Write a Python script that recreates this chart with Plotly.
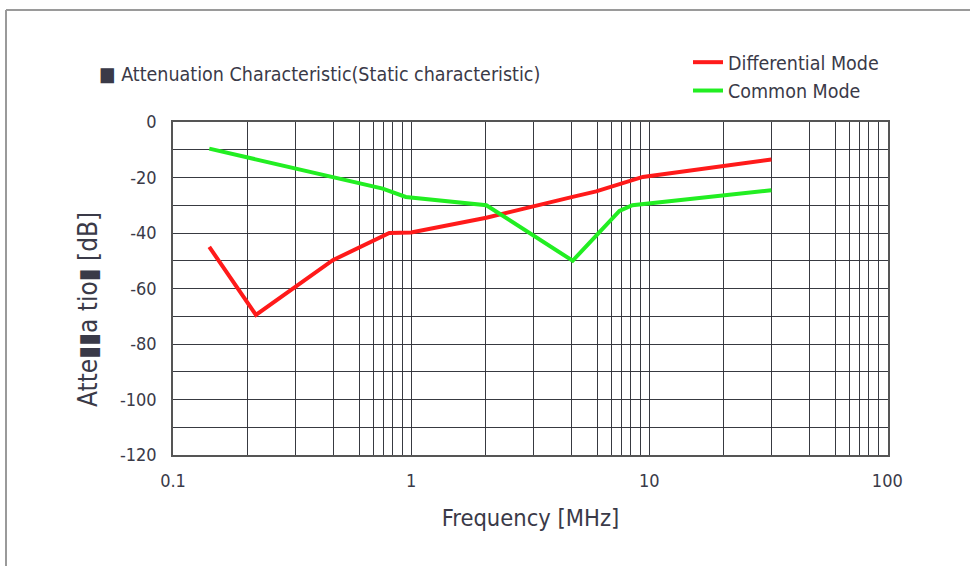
import plotly.graph_objects as go

# ---- data ----
diff_freq = [0.142, 0.223, 0.469, 0.81, 1.0, 2.07, 4.77, 5.99, 9.4, 32.6]
diff_db = [-45, -69.5, -49.8, -40, -39.8, -34.5, -27, -25, -19.8, -13.5]

cm_freq = [0.142, 0.469, 0.76, 0.95, 2.07, 4.77, 7.5, 8.5, 32.6]
cm_db = [-9.6, -20, -24, -27, -30, -50, -32, -30, -24.6]

x_labels = ["0.1", "1", "10", "100"]
x_label_vals = [0.1, 1, 10, 100]
y_label_vals = [0, -20, -40, -60, -80, -100, -120]

# grid line placement inside each decade (fraction of a decade, as drawn)
grid_frac = [0.311, 0.515, 0.674, 0.782, 0.840, 0.882, 0.922, 0.964]

W, H = 970, 566
L, R, T, B = 173, 82, 122, 111
PW, PH = W - L - R, H - T - B


def px_x(px):
    return (px - L) / PW


def px_y(py):
    return 1 - (py - T) / PH


FONT = "DejaVu Sans Condensed, Liberation Sans Narrow, sans-serif"
TXT = "#3a3a48"

xt_vals, xt_text = [], []
for v, t in zip(x_label_vals, x_labels):
    xt_vals.append(v)
    xt_text.append(t)
for d in (-1, 0, 1):
    for f in grid_frac:
        xt_vals.append(10 ** (d + f))
        xt_text.append("")

yt_vals = list(range(-120, 1, 10))
yt_text = [str(v) if v in y_label_vals else "" for v in yt_vals]

fig = go.Figure()
fig.add_trace(go.Scatter(x=diff_freq, y=diff_db, mode="lines", name="Differential Mode",
                         line=dict(color="#ff1a1a", width=4)))
fig.add_trace(go.Scatter(x=cm_freq, y=cm_db, mode="lines", name="Common Mode",
                         line=dict(color="#22ee22", width=4)))

grid_col = "rgba(45,47,55,0.95)"
fig.update_xaxes(type="log", range=[-1, 2.003], tickmode="array", tickvals=xt_vals,
                 ticktext=xt_text, showgrid=True, gridcolor=grid_col, gridwidth=1.3,
                 showline=True, linecolor="#555", linewidth=1.5, mirror=True,
                 ticks="", ticklabelstandoff=9, zeroline=False,
                 tickfont=dict(family=FONT, size=18, color=TXT),
                 title=dict(text="Frequency [MHz]", font=dict(family=FONT, size=23.5, color=TXT),
                            standoff=19))
fig.update_yaxes(range=[-120, 0], tickmode="array", tickvals=yt_vals, ticktext=yt_text,
                 showgrid=True, gridcolor=grid_col, gridwidth=1.3,
                 showline=True, linecolor="#555", linewidth=1.5, mirror=True,
                 ticks="", ticklabelstandoff=11, zeroline=False,
                 tickfont=dict(family=FONT, size=18, color=TXT))

fig.add_annotation(text="Atte▮▮a tio▮ [dB]", textangle=-90, xref="paper", yref="paper",
                   x=px_x(88), y=px_y(310), xanchor="center", yanchor="middle",
                   showarrow=False, font=dict(family=FONT, size=26, color=TXT))
fig.add_annotation(text="■ Attenuation Characteristic(Static characteristic)", xref="paper",
                   yref="paper", x=px_x(97), y=px_y(75), xanchor="left", yanchor="middle",
                   showarrow=False, font=dict(family=FONT, size=19.5, color=TXT))

# outer frame (top and left edges visible)
fig.add_shape(type="line", xref="paper", yref="paper", x0=px_x(6), x1=px_x(975),
              y0=px_y(10), y1=px_y(10), line=dict(color="#9a9a9a", width=2))
fig.add_shape(type="line", xref="paper", yref="paper", x0=px_x(6), x1=px_x(6),
              y0=px_y(10), y1=px_y(575), line=dict(color="#9a9a9a", width=2))

fig.update_layout(
    width=W, height=H, margin=dict(l=L, r=R, t=T, b=B),
    paper_bgcolor="white", plot_bgcolor="white",
    showlegend=True,
    legend=dict(x=px_x(688), y=px_y(43), xanchor="left", yanchor="top",
                font=dict(family=FONT, size=19.5, color=TXT), bgcolor="rgba(0,0,0,0)",
                tracegroupgap=0),
)

fig.write_html("out.html")
